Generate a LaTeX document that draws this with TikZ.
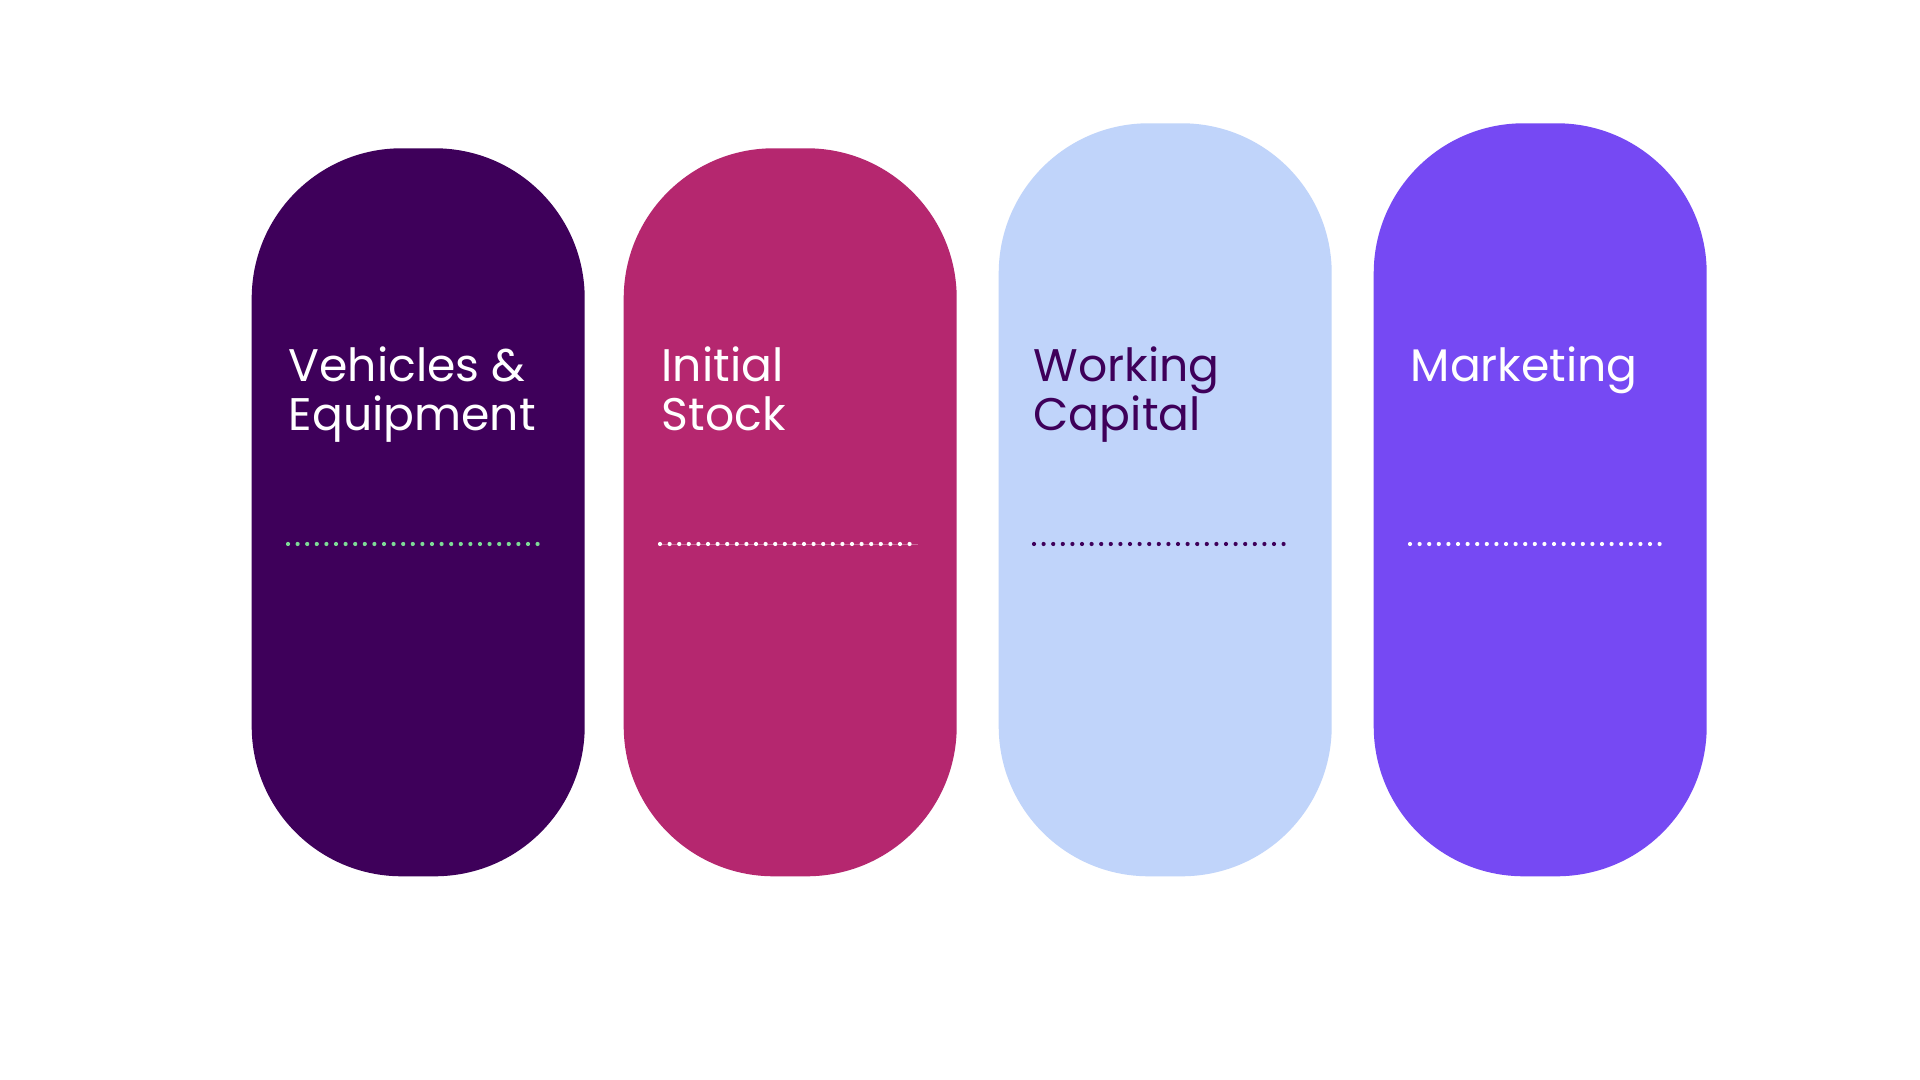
\documentclass[tikz,border=0pt]{standalone}
\usepackage{fontspec}
\setmainfont{Poppins}
\definecolor{plum}{HTML}{3E005A}
\definecolor{berry}{HTML}{B5276F}
\definecolor{sky}{HTML}{C0D4FA}
\definecolor{violet}{HTML}{7649F3}
\definecolor{mint}{HTML}{7EDC96}
\newcommand\pilltitlefont{\fontsize{13}{14}\selectfont\lineskiplimit=-20pt\relax}
\tikzset{
  pill/.style={rectangle,rounded corners=1.5cm,minimum width=3.33cm,inner sep=0pt,draw=none},
  title/.style={anchor=base west,inner sep=0pt,align=left,font=\pilltitlefont}
}
\begin{document}
\begin{tikzpicture}
  \useasboundingbox (0,0) rectangle (19.2,10.8);
  \fill[white] (0,0) rectangle (19.2,10.8);
  \node[pill,fill=plum,  minimum height=7.28cm,anchor=south west] (ve) at (2.51,2.03) {};
  \node[pill,fill=berry, minimum height=7.28cm,anchor=south west] (is) at (6.23,2.03) {};
  \node[pill,fill=sky,   minimum height=7.53cm,anchor=south west] (wc) at (9.98,2.03) {};
  \node[pill,fill=violet,minimum height=7.53cm,anchor=south west] (mk) at (13.73,2.03) {};
  % two-line titles sit on their last baseline
  \node[title,text=white] (ve-text) at (2.88,6.49) {Vehicles \&\\Equipment};
  \node[title,text=white] (is-text) at (6.61,6.49) {Initial\\Stock};
  \node[title,text=plum]  (wc-text) at (10.33,6.49) {Working\\Capital};
  \node[title,text=white] (mk-text) at (14.10,6.98) {Marketing};
  \draw[white,opacity=0.3,line width=0.2pt] (6.60,5.36) -- (9.18,5.36);
  \foreach \x/\c in {2.88/mint,6.60/white,10.34/plum,14.10/white}
    \foreach \i in {0,...,26}
      \fill[\c] ({\x+\i*0.096},5.36) circle (0.021);
\end{tikzpicture}
\end{document}
